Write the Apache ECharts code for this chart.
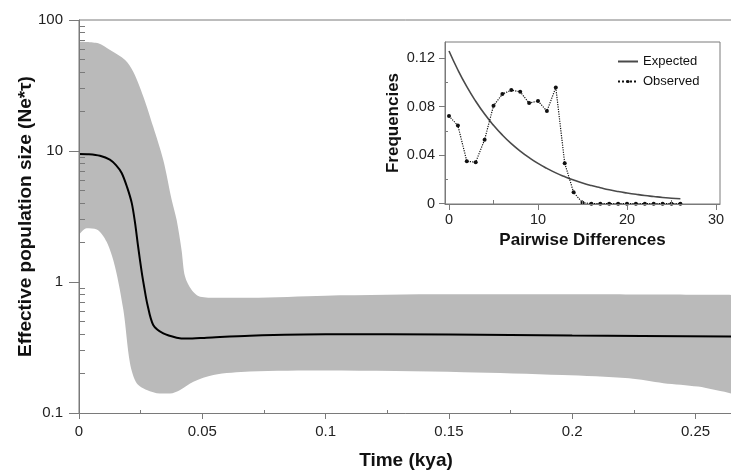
<!DOCTYPE html>
<html>
<head>
<meta charset="utf-8">
<script src="https://cdn.jsdelivr.net/npm/echarts@6/dist/echarts.min.js"></script>
<style>html,body{margin:0;padding:0;background:#fff;}#c{width:731px;height:472px;}</style>
</head>
<body>
<div id="c"></div>
<script>
// ---- Main skyline plot data (Time in kya, Ne*tau) ----
const medianX = [0, 0.004, 0.0085, 0.0125, 0.015, 0.0173, 0.0195, 0.0214, 0.0227, 0.024, 0.0254, 0.0265, 0.0277, 0.0301, 0.0342, 0.0396, 0.0437, 0.0518, 0.0693, 0.1, 0.15, 0.2, 0.2652];
const medianY = [9.5, 9.45, 9.2, 8.6, 7.8, 6.8, 5.3, 4.0, 2.85, 1.85, 1.2, 0.9, 0.68, 0.47, 0.405, 0.376, 0.37, 0.376, 0.389, 0.399, 0.398, 0.39, 0.383];
const upperX = [0, 0.0078, 0.0126, 0.0187, 0.022, 0.0261, 0.0301, 0.0342, 0.0376, 0.0396, 0.0416, 0.043, 0.0457, 0.0491, 0.0558, 0.0693, 0.1, 0.15, 0.2, 0.2652];
const upperY = [68.3, 66.4, 59.0, 49.5, 40.3, 26.0, 15.3, 8.5, 4.23, 2.97, 1.75, 1.10, 0.869, 0.773, 0.759, 0.759, 0.786, 0.805, 0.805, 0.796];
const lowerX = [0, 0.0031, 0.0072, 0.0112, 0.0146, 0.018, 0.0207, 0.0234, 0.0275, 0.0328, 0.0369, 0.041, 0.0464, 0.0545, 0.0693, 0.1, 0.156, 0.196, 0.223, 0.237, 0.251, 0.2652];
const lowerY = [2.29, 2.57, 2.52, 2.03, 1.31, 0.611, 0.239, 0.169, 0.150, 0.141, 0.141, 0.150, 0.173, 0.195, 0.207, 0.211, 0.205, 0.195, 0.184, 0.169, 0.159, 0.14];
const timeTicks = [0, 0.05, 0.1, 0.15, 0.2, 0.25];
const timeMinorTicks = [0.025, 0.075, 0.125, 0.175, 0.225];
const neTicks = [0.1, 1, 10, 100];
const neMinorTicks = [0.2,0.3,0.4,0.5,0.6,0.7,0.8,0.9, 2,3,4,5,6,7,8,9, 20,30,40,50,60,70,80,90];

// ---- Inset mismatch distribution data ----
const pairwiseDiff = [0,1,2,3,4,5,6,7,8,9,10,11,12,13,14,15,16,17,18,19,20,21,22,23,24,25,26];
const observedFreq = [0.0723, 0.0644, 0.035, 0.0342, 0.0528, 0.0808, 0.0904, 0.0937, 0.0923, 0.083, 0.0847, 0.0764, 0.0959, 0.0334, 0.0093, 0.0008, 0, 0, 0, 0, 0, 0, 0, 0, 0, 0, 0];
const expectedFreq = [0.126, 0.1103, 0.0965, 0.0845, 0.0739, 0.0647, 0.0566, 0.0495, 0.0434, 0.038, 0.0332, 0.0291, 0.0254, 0.0223, 0.0195, 0.017, 0.0149, 0.0131, 0.0114, 0.01, 0.0088, 0.0077, 0.0067, 0.0059, 0.0051, 0.0045, 0.004];
const pdTicks = [0, 10, 20, 30];
const pdMinorTicks = [5, 15, 25];
const freqTicks = [0, 0.04, 0.08, 0.12];
const freqMinorTicks = [0.02, 0.06, 0.1];

const FONT = "'Liberation Sans', Arial, sans-serif";
const AXC = '#7a7a7a';
const zip = (a, b) => a.map((v, i) => [v, b[i]]);

function minorAxis(type, gridIndex, position, min, max, values, len) {
  return {type: type, gridIndex: gridIndex, position: position, min: min, max: max, z: 10,
    axisLine: {show: true, onZero: false, lineStyle: {color: AXC, opacity: 0}},
    axisTick: {show: true, inside: true, length: len, customValues: values, lineStyle: {color: AXC}},
    axisLabel: {show: false}, splitLine: {show: false}};
}

const chart = echarts.init(document.getElementById('c'), null, {renderer: 'canvas'});
chart.setOption({
  animation: false,
  backgroundColor: '#fff',
  textStyle: {fontFamily: FONT},
  grid: [
    {left: 79, top: 20, right: -2, bottom: 59, outerBoundsMode: 'none', containLabel: false,
     show: true, borderColor: AXC, borderWidth: 1, backgroundColor: 'transparent'},
    {left: 445, top: 42, width: 275, height: 162, outerBoundsMode: 'none', containLabel: false,
     show: true, borderColor: AXC, borderWidth: 1, backgroundColor: '#fff'}
  ],
  legend: {
    data: [
      {name: 'Expected', itemStyle: {opacity: 0}},
      {name: 'Observed'}
    ],
    left: 612, top: 49, orient: 'vertical',
    itemWidth: 20, itemHeight: 4, itemGap: 5,
    textStyle: {fontSize: 13, color: '#111', fontFamily: FONT, lineHeight: 15}
  },
  xAxis: [
    {type: 'value', gridIndex: 0, position: 'bottom', min: 0, max: 0.2652, z: 10,
     name: 'Time (kya)', nameLocation: 'middle', nameGap: 38, nameMoveOverlap: false,
     nameTextStyle: {fontSize: 19, fontWeight: 'bold', color: '#111', fontFamily: FONT},
     axisLine: {show: true, onZero: false, lineStyle: {color: AXC}},
     axisTick: {show: true, inside: false, length: 6, customValues: timeTicks, lineStyle: {color: AXC}},
     axisLabel: {fontSize: 15, color: '#222', margin: 11, customValues: timeTicks, fontFamily: FONT},
     splitLine: {show: false}},
    minorAxis('value', 0, 'bottom', 0, 0.2652, timeMinorTicks, 3),
    {type: 'value', gridIndex: 1, position: 'bottom', min: -0.45, max: 30.45, z: 10,
     name: 'Pairwise Differences', nameLocation: 'middle', nameGap: 28, nameMoveOverlap: false,
     nameTextStyle: {fontSize: 17, fontWeight: 'bold', color: '#111', fontFamily: FONT},
     axisLine: {show: true, onZero: false, lineStyle: {color: AXC}},
     axisTick: {show: true, inside: false, length: 6, customValues: pdTicks, lineStyle: {color: AXC}},
     axisLabel: {fontSize: 14.5, color: '#222', margin: 8, customValues: pdTicks, fontFamily: FONT},
     splitLine: {show: false}},
    minorAxis('value', 1, 'bottom', -0.45, 30.45, pdMinorTicks, 4)
  ],
  yAxis: [
    {type: 'log', logBase: 10, gridIndex: 0, position: 'left', min: 0.1, max: 100, z: 10,
     name: 'Effective population size (Ne*τ)', nameLocation: 'middle', nameGap: 44, nameMoveOverlap: false,
     nameTextStyle: {fontSize: 19, fontWeight: 'bold', color: '#111', fontFamily: FONT},
     axisLine: {show: true, onZero: false, lineStyle: {color: AXC}},
     axisTick: {show: true, inside: false, length: 10, customValues: neTicks, lineStyle: {color: AXC}},
     axisLabel: {fontSize: 15, color: '#222', margin: 16, customValues: neTicks, fontFamily: FONT},
     splitLine: {show: false}},
    minorAxis('log', 0, 'left', 0.1, 100, neMinorTicks, 6),
    {type: 'value', gridIndex: 1, position: 'left', min: -0.0003, max: 0.1334, z: 10,
     name: 'Frequencies', nameLocation: 'middle', nameGap: 43, nameMoveOverlap: false,
     nameTextStyle: {fontSize: 17, fontWeight: 'bold', color: '#111', fontFamily: FONT},
     axisLine: {show: true, onZero: false, lineStyle: {color: AXC}},
     axisTick: {show: true, inside: false, length: 6, customValues: freqTicks, lineStyle: {color: AXC}},
     axisLabel: {fontSize: 14.5, color: '#222', margin: 10, customValues: freqTicks, fontFamily: FONT},
     splitLine: {show: false}},
    minorAxis('value', 1, 'left', -0.0003, 0.1334, freqMinorTicks, 3)
  ],
  series: [
    {name: 'upper95', type: 'line', xAxisIndex: 0, yAxisIndex: 0, data: zip(upperX, upperY),
     symbol: 'none', smooth: 0.3, lineStyle: {width: 0}, areaStyle: {color: '#bababa', opacity: 1, origin: 'start'}, z: 1, silent: true},
    {name: 'lower95', type: 'line', xAxisIndex: 0, yAxisIndex: 0, data: zip(lowerX, lowerY),
     symbol: 'none', smooth: 0.3, lineStyle: {width: 0}, areaStyle: {color: '#ffffff', opacity: 1, origin: 'start'}, z: 2, silent: true},
    {name: 'median', type: 'line', xAxisIndex: 0, yAxisIndex: 0, data: zip(medianX, medianY),
     symbol: 'none', smooth: 0.3, lineStyle: {width: 2, color: '#000'}, z: 3},
    {name: 'Expected', type: 'line', xAxisIndex: 2, yAxisIndex: 2, data: zip(pairwiseDiff, expectedFreq),
     symbol: 'none', smooth: true, color: '#4a4a4a', lineStyle: {width: 1.6, color: '#4a4a4a'}, z: 4},
    {name: 'Observed', type: 'line', xAxisIndex: 2, yAxisIndex: 2, data: zip(pairwiseDiff, observedFreq),
     symbol: 'circle', symbolSize: 4, color: '#111', itemStyle: {color: '#111'},
     lineStyle: {width: 1.2, type: 'dotted', color: '#111'}, z: 5}
  ]
});
</script>
</body>
</html>
